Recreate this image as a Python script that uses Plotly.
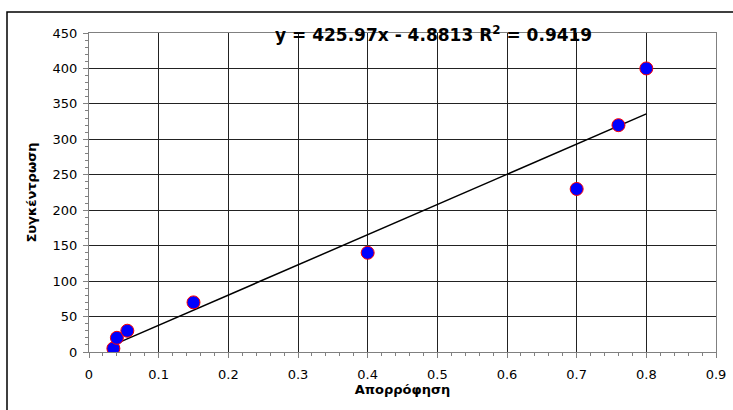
import plotly.graph_objects as go

absorbance = [0.035, 0.04, 0.055, 0.15, 0.4, 0.7, 0.76, 0.8]
concentration = [5, 20, 30, 70, 140, 230, 320, 400]
slope = 425.97
intercept = -4.8813
equation_label = "y = 425.97x - 4.8813 R<sup>2</sup> = 0.9419"
x_title = "Απορρόφηση"
y_title = "Συγκέντρωση"

W, H = 733, 410
L, R, T, B = 89, 17, 33, 58
pw, ph = W - L - R, H - T - B

xmin, xmax = min(absorbance), max(absorbance)
fig = go.Figure()
fig.add_trace(go.Scatter(
    x=[xmin, xmax], y=[slope * xmin + intercept, slope * xmax + intercept],
    mode="lines", line=dict(color="black", width=1.5), hoverinfo="skip", showlegend=False))
fig.add_trace(go.Scatter(
    x=absorbance, y=concentration, mode="markers",
    marker=dict(color="#0000ff", size=13, line=dict(color="#ff0000", width=1)),
    showlegend=False))

font = dict(family="DejaVu Sans, Arial, sans-serif", size=13, color="black")
fig.update_layout(
    width=W, height=H, margin=dict(l=L, r=R, t=T, b=B),
    paper_bgcolor="white", plot_bgcolor="white", font=font,
    xaxis=dict(range=[0, 0.9], dtick=0.1, tickformat="~g", showgrid=True, gridcolor="#222222",
               gridwidth=1, zeroline=False, showline=True, linecolor="#808080", linewidth=1,
               ticks="outside", ticklen=5, tickcolor="#808080", ticklabelstandoff=5,
               minor=dict(dtick=0.02, ticks="outside", ticklen=3, tickcolor="#808080", showgrid=False),
               title=dict(text="<b>" + x_title + "</b>", font=dict(size=13), standoff=4),
               mirror=True, fixedrange=True, automargin=False),
    yaxis=dict(range=[0, 450], dtick=50, showgrid=True, gridcolor="#222222", gridwidth=1,
               zeroline=False, showline=True, linecolor="#808080", linewidth=1,
               ticks="outside", ticklen=5, tickcolor="#808080", ticklabelstandoff=3,
               minor=dict(dtick=10, ticks="outside", ticklen=3, tickcolor="#808080", showgrid=False),
               title=dict(text="<b>" + y_title + "</b>", font=dict(size=13), standoff=13),
               mirror=True, fixedrange=True, automargin=False),
    shapes=[dict(type="rect", xref="paper", yref="paper",
                 x0=(7 - L) / pw, x1=(740 - L) / pw, y0=-(420 - T - ph) / ph, y1=(ph + T - 12) / ph,
                 line=dict(color="black", width=1.5), fillcolor="rgba(0,0,0,0)", layer="below")],
    annotations=[dict(text="<b>" + equation_label + "</b>", xref="paper", yref="paper",
                      x=(433 - L) / pw, y=(352 - 34) / ph, xanchor="center", yanchor="middle",
                      showarrow=False, font=dict(size=17, color="black"))],
)
fig.write_html("out.html", config={"displayModeBar": False},
               post_script="document.body.style.margin='0';document.body.style.overflow='hidden';")
